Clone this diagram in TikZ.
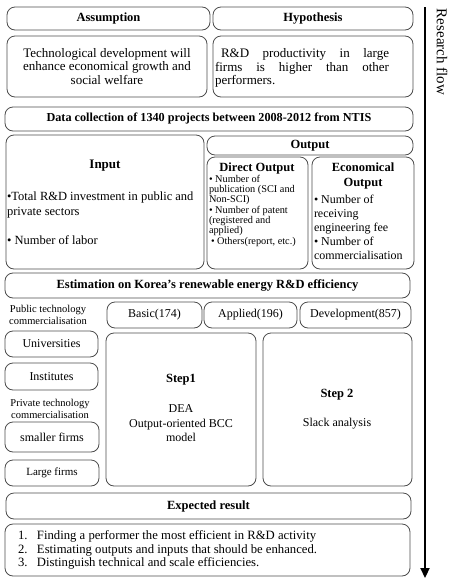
\documentclass[tikz,border=0pt]{standalone}
\usepackage{fontspec}
\setmainfont{Liberation Serif}
\usetikzlibrary{arrows.meta}
\tikzset{
  box/.style={draw=black!70, line width=0.8pt, rounded corners=8pt, inner sep=0pt, outer sep=0pt, align=center},
  ttl/.style={font=\bfseries\fontsize{12.5}{14}\selectfont},
  body/.style={font=\fontsize{12}{14}\selectfont},
  txt/.style={inner sep=0pt, outer sep=0pt},
  flow/.style={line width=2.2pt, -{Triangle[length=10pt,width=9pt]}},
}
\newcommand{\rbox}[7][]{\node[box,#1, minimum width={#5-#3}, minimum height={#6-#4}] (#2) at ({(#3+#5)/2},{(#4+#6)/2}) {#7};}
\begin{document}
\begin{tikzpicture}[x=1pt,y=-1pt]
\useasboundingbox (0,0) rectangle (450,584);
% top row
\rbox[ttl]{assump}{7}{7}{210}{30}{Assumption}
\rbox[ttl]{hypo}{213}{7}{413}{30}{Hypothesis}
\rbox[font=\fontsize{13}{13.5}\selectfont]{tech}{7}{36}{207}{97}{Technological development will\\enhance economical growth and\\social welfare}
\rbox{rdbox}{213}{36}{413}{97}{}
\node[txt, anchor=west, text width=174pt, align=justify, font=\fontsize{13}{13.5}\selectfont] (rdtext) at (215,68) {\hspace*{6pt}R\&D productivity in large\linebreak firms is higher than other\linebreak performers.};
% data
\rbox[font=\bfseries\fontsize{12.2}{14}\selectfont]{data}{5}{107}{413}{131}{Data collection of 1340 projects between 2008-2012 from NTIS}
% input
\rbox{input}{6}{135}{204}{269}{}
\node[txt, font=\bfseries\fontsize{13}{14}\selectfont] (inputttl) at (105,166) {Input};
\node[txt, anchor=west, align=left, font=\fontsize{12.5}{15}\selectfont] (inputtext) at (7,218) {\textbullet Total R\&D investment in public and\\private sectors\\[14pt]\textbullet\ Number of labor};
% output
\rbox[ttl]{outhead}{207}{136}{413}{155}{Output}
\rbox{direct}{207}{157}{308}{269}{}
\node[txt, font=\bfseries\fontsize{12.5}{14}\selectfont] (directttl) at (257,168) {Direct Output};
\node[txt, anchor=west, align=left, font=\fontsize{10.3}{9.3}\selectfont] (directtext) at (209,211) {\textbullet\ Number of\\publication (SCI and\\Non-SCI)\\\textbullet\ Number of patent\\(registered and\\applied)\\\hspace*{2pt}\textbullet\ Others(report, etc.)};
\rbox{econ}{312}{157}{414}{269}{}
\node[txt, align=center, font=\bfseries\fontsize{12.5}{15}\selectfont] (econttl) at (363,175.5) {Economical\\Output};
\node[txt, anchor=west, align=left, font=\fontsize{12}{14}\selectfont] (econtext) at (314,227) {\textbullet\ Number of\\receiving\\engineering fee\\\textbullet\ Number of\\commercialisation};
% estimation
\rbox[ttl]{estim}{5}{273}{410}{298}{Estimation on Korea’s renewable energy R\&D efficiency}
\node[txt, align=center, font=\fontsize{10.5}{12}\selectfont] (pubtxt) at (48,315) {Public technology\\commercialisation};
\rbox[body]{basic}{107}{302}{202}{328}{Basic(174)}
\rbox[body]{applied}{204}{302}{297}{328}{Applied(196)}
\rbox[body]{devel}{300}{302}{411}{328}{Development(857)}
\rbox[body]{univ}{5}{331}{98}{357}{Universities}
\rbox[body]{inst}{5}{363}{98}{390}{Institutes}
\node[txt, align=center, font=\fontsize{10.5}{12}\selectfont] (privtxt) at (50,409) {Private technology\\commercialisation};
\rbox[body]{smaller}{5}{422}{99}{452}{smaller firms}
\rbox[font=\fontsize{11}{13}\selectfont]{large}{5}{460}{99}{486}{Large firms}
% steps
\rbox{step1}{106}{333}{256}{486}{}
\node[txt, font=\bfseries\fontsize{12.5}{14}\selectfont] (step1ttl) at (181,380) {Step1};
\node[txt, align=center, font=\fontsize{12}{14.5}\selectfont] (step1text) at (181,423.5) {DEA\\Output-oriented BCC\\model};
\rbox{step2}{263}{333}{412}{486}{}
\node[txt, font=\bfseries\fontsize{12.5}{14}\selectfont] (step2ttl) at (337,395) {Step 2};
\node[txt, font=\fontsize{12}{14}\selectfont] (step2text) at (337,424) {Slack analysis};
% expected
\rbox[ttl]{expect}{6}{493}{411}{519}{Expected result}
\rbox{list}{5}{524}{410}{576}{}
\node[txt, anchor=west, align=left, font=\fontsize{12.7}{13.5}\selectfont] (listtext) at (18,550) {\makebox[19pt][l]{1.}Finding a performer the most efficient in R\&D activity\\\makebox[19pt][l]{2.}Estimating outputs and inputs that should be enhanced.\\\makebox[19pt][l]{3.}Distinguish technical and scale efficiencies.};
% research flow arrow
\coordinate (flowtop) at (425,7);
\coordinate (flowend) at (425,578);
\draw[flow] (flowtop) -- (flowend);
\node[txt, rotate=-90, font=\fontsize{15}{16}\selectfont] (flowlabel) at (442,52) {Research flow};
\end{tikzpicture}
\end{document}
